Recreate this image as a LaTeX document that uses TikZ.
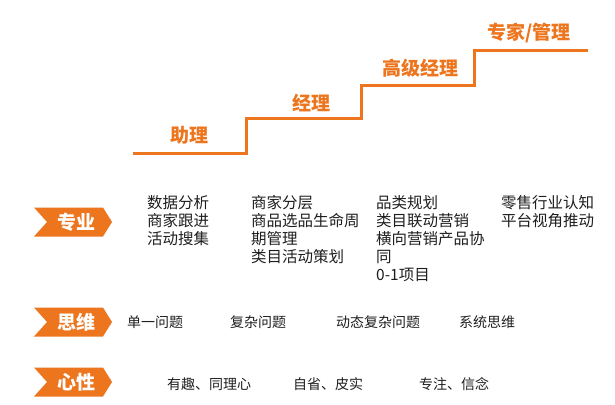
\documentclass[tikz,border=0pt]{standalone}
\usepackage{fontspec}
\setmainfont{Noto Sans CJK SC}
\definecolor{brand}{RGB}{236,117,30}
\definecolor{ink}{RGB}{30,30,30}
\begin{document}
\begin{tikzpicture}[x=1pt,y=-1pt,
  stair/.style={draw=brand,line width=3pt,line join=miter},
  level/.style={text=brand,font=\fontsize{19}{22}\selectfont\bfseries,inner sep=0pt},
  tagbox/.style={fill=brand},
  tagtext/.style={text=white,font=\fontsize{19}{22}\selectfont\bfseries,inner sep=0pt},
  coltext/.style={text=ink,font=\fontsize{15.5}{18}\selectfont,align=left,anchor=north west,inner sep=0pt},
  rowtext/.style={text=ink,font=\fontsize{14}{16}\selectfont,inner sep=0pt}]
\useasboundingbox (0,0) rectangle (615,404);
% stairs
\coordinate (s0) at (133,153);
\coordinate (s1) at (246,153);
\coordinate (s2) at (246,118);
\coordinate (s3) at (361,118);
\coordinate (s4) at (361,85);
\coordinate (s5) at (474,85);
\coordinate (s6) at (474,51);
\coordinate (s7) at (588,51);
\draw[stair] (s0) -- (s1) -- (s2) -- (s3) -- (s4) -- (s5) -- (s6) -- (s7);
\node[level] (l1) at (189,135) {助理};
\node[level] (l2) at (311,103) {经理};
\node[level] (l3) at (420,68) {高级经理};
\node[level] (l4) at (529,33) {专家/管理};
% tags
\foreach \name/\yc/\lab in {t1/222/专业, t2/322/思维, t3/382/心性}{
  \fill[brand] (34,\yc-14.5) -- (103,\yc-14.5) -- (112,\yc) -- (103,\yc+14.5) -- (34,\yc+14.5) -- (47,\yc) -- cycle;
  \node[tagtext] (\name) at (76,\yc) {\lab};
}
% columns
\node[coltext] (c1) at (147,195) {数据分析\\商家跟进\\活动搜集};
\node[coltext] (c2) at (251,195) {商家分层\\商品选品生命周\\期管理\\类目活动策划};
\node[coltext] (c3) at (376,195) {品类规划\\类目联动营销\\横向营销产品协\\同\\0-1项目};
\node[coltext] (c4) at (501,195) {零售行业认知\\平台视角推动};
% thinking row
\node[rowtext] (r1) at (155,322) {单一问题};
\node[rowtext] (r2) at (258,322) {复杂问题};
\node[rowtext] (r3) at (378,322) {动态复杂问题};
\node[rowtext] (r4) at (487,322) {系统思维};
% mindset row
\node[rowtext] (m1) at (209,384) {有趣、同理心};
\node[rowtext] (m2) at (328,384) {自省、皮实};
\node[rowtext] (m3) at (454,384) {专注、信念};
\end{tikzpicture}
\end{document}
